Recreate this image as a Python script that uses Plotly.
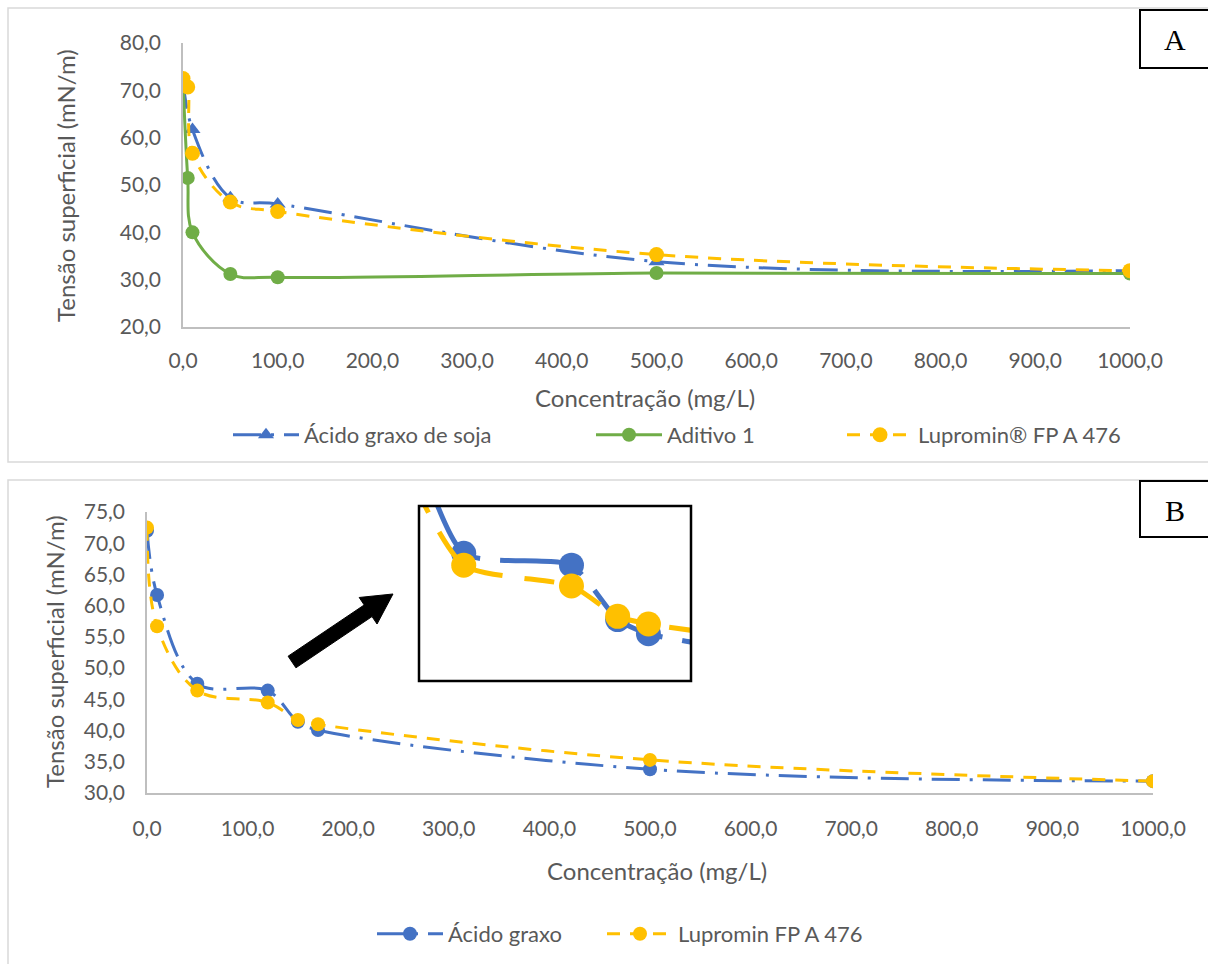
import plotly.graph_objects as go
import numpy as np

# ---------------- DATA ----------------
# Panel A
a_acido_x = [0, 10, 50, 100, 500, 1000]
a_acido_y = [72.0, 61.7, 47.3, 46.0, 33.8, 31.9]
a_aditivo_x = [0, 5, 10, 50, 100, 500, 1000]
a_aditivo_y = [72.0, 51.5, 40.0, 31.2, 30.5, 31.4, 31.3]
a_lupro_x = [0, 5, 10, 50, 100, 500, 1000]
a_lupro_y = [72.5, 70.7, 56.7, 46.4, 44.4, 35.3, 31.9]

# Panel B
b_x = [0, 10, 50, 120, 150, 170, 500, 1000]
b_acido_y = [72.0, 61.7, 47.5, 46.4, 41.4, 40.1, 33.8, 31.9]
b_lupro_y = [72.5, 56.7, 46.4, 44.5, 41.7, 41.0, 35.3, 31.9]

names_a = ["Ácido graxo de soja", "Aditivo 1", "Lupromin® FP A 476"]
names_b = ["Ácido graxo", "Lupromin FP A 476"]
x_title = "Concentração (mg/L)"
y_title = "Tensão superficial (mN/m)"

# ---------------- STYLE ----------------
W, H = 1208, 964
BLUE, GREEN, GOLD = "#4472C4", "#70AD47", "#FFC000"
TXT = "#595959"
FONT = "Lato"
DASH_BLUE = "28px,10px,3px,10px"
DASH_GOLD = "13px,10px"


def px(x):
    return x / W


def py(y):
    return 1 - y / H


fig = go.Figure()

# Panel A traces
fig.add_trace(go.Scatter(x=a_acido_x, y=a_acido_y, name=names_a[0], mode="lines+markers",
                         line=dict(color=BLUE, width=3, dash=DASH_BLUE, shape="spline", smoothing=1),
                         marker=dict(symbol="triangle-up", size=14, color=BLUE),
                         xaxis="x", yaxis="y", legend="legend"))
fig.add_trace(go.Scatter(x=a_aditivo_x, y=a_aditivo_y, name=names_a[1], mode="lines+markers",
                         line=dict(color=GREEN, width=3, shape="spline", smoothing=1),
                         marker=dict(symbol="circle", size=14, color=GREEN),
                         xaxis="x", yaxis="y", legend="legend2"))
fig.add_trace(go.Scatter(x=a_lupro_x, y=a_lupro_y, name=names_a[2], mode="lines+markers",
                         line=dict(color=GOLD, width=3, dash=DASH_GOLD, shape="spline", smoothing=1),
                         marker=dict(symbol="circle", size=15, color=GOLD),
                         xaxis="x", yaxis="y", legend="legend3"))

# Panel B traces
fig.add_trace(go.Scatter(x=b_x, y=b_acido_y, name=names_b[0], mode="lines+markers",
                         line=dict(color=BLUE, width=3, dash=DASH_BLUE, shape="spline", smoothing=1),
                         marker=dict(symbol="circle", size=14, color=BLUE),
                         xaxis="x2", yaxis="y2", legend="legend4"))
fig.add_trace(go.Scatter(x=b_x, y=b_lupro_y, name=names_b[1], mode="lines+markers",
                         line=dict(color=GOLD, width=3, dash=DASH_GOLD, shape="spline", smoothing=1),
                         marker=dict(symbol="circle", size=14, color=GOLD),
                         xaxis="x2", yaxis="y2", legend="legend5"))

# Inset (magnified view of panel B)
fig.add_trace(go.Scatter(x=b_x, y=b_acido_y, mode="lines+markers", showlegend=False,
                         line=dict(color=BLUE, width=5, dash="60px,20px,6px,20px", shape="spline", smoothing=0.6),
                         marker=dict(symbol="circle", size=25, color=BLUE),
                         xaxis="x3", yaxis="y3", hoverinfo="skip"))
fig.add_trace(go.Scatter(x=b_x, y=b_lupro_y, mode="lines+markers", showlegend=False,
                         line=dict(color=GOLD, width=5, dash="30px,22px", shape="spline", smoothing=0.6),
                         marker=dict(symbol="circle", size=25, color=GOLD),
                         xaxis="x3", yaxis="y3", hoverinfo="skip"))

axis_common = dict(showgrid=False, zeroline=False, ticks="", showline=True, automargin=False,
                   linecolor="#BFBFBF", linewidth=1.5,
                   tickfont=dict(family=FONT, size=21, color=TXT), tickformat=".1f")

fig.update_layout(
    template="none",
    width=W, height=H,
    margin=dict(l=0, r=0, t=0, b=0, pad=0, autoexpand=False),
    paper_bgcolor="white", plot_bgcolor="white",
    separators=",.",
    font=dict(family=FONT, color=TXT),
    hovermode=False,
    xaxis=dict(domain=[px(183), px(1130)], range=[0, 1000], dtick=100, anchor="y",
               ticklabelstandoff=14, **axis_common),
    yaxis=dict(domain=[py(327), py(43)], range=[20, 80], dtick=10, anchor="x",
               ticklabelstandoff=16, **axis_common),
    xaxis2=dict(domain=[px(147), px(1153)], range=[0, 1000], dtick=100, anchor="y2",
                ticklabelstandoff=16, **axis_common),
    yaxis2=dict(domain=[py(793), py(512)], range=[30, 75], dtick=5, anchor="x2",
                ticklabelstandoff=16, **axis_common),
    xaxis3=dict(domain=[px(420), px(690)], range=[21.6, 197], visible=False, anchor="y3", automargin=False),
    yaxis3=dict(domain=[py(680), py(507)], range=[35.85, 51.75], visible=False, anchor="x3", automargin=False),
)

leg_common = dict(orientation="h", yanchor="middle", xanchor="left", bgcolor="rgba(0,0,0,0)",
                  font=dict(family=FONT, size=22, color=TXT), itemwidth=66)
fig.update_layout(
    legend=dict(x=px(228), y=py(435), **leg_common),
    legend2=dict(x=px(591), y=py(435), **leg_common),
    legend3=dict(x=px(842), y=py(435), **leg_common),
    legend4=dict(x=px(372), y=py(934), **leg_common),
    legend5=dict(x=px(602), y=py(934), **leg_common),
)

# Axis titles and panel labels
title_font = dict(family=FONT, size=24, color=TXT)
ann = []
ann.append(dict(text=x_title, x=px(645), y=py(397), xref="paper", yref="paper", showarrow=False,
                xanchor="center", yanchor="middle", font=title_font))
ann.append(dict(text=x_title, x=px(657), y=py(870), xref="paper", yref="paper", showarrow=False,
                xanchor="center", yanchor="middle", font=title_font))
ann.append(dict(text=y_title, x=px(66), y=py(186), xref="paper", yref="paper", showarrow=False,
                xanchor="center", yanchor="middle", textangle=-90, font=title_font))
ann.append(dict(text=y_title, x=px(54), y=py(652), xref="paper", yref="paper", showarrow=False,
                xanchor="center", yanchor="middle", textangle=-90, font=title_font))
ann.append(dict(text="A", x=px(1175), y=py(40), xref="paper", yref="paper", showarrow=False,
                xanchor="center", yanchor="middle",
                font=dict(family="Liberation Serif", size=30, color="black")))
ann.append(dict(text="B", x=px(1175), y=py(510), xref="paper", yref="paper", showarrow=False,
                xanchor="center", yanchor="middle",
                font=dict(family="Liberation Serif", size=30, color="black")))
fig.update_layout(annotations=ann)

# Frames and boxes
shapes = []
shapes.append(dict(type="rect", xref="paper", yref="paper", x0=px(8), x1=px(1215), y0=py(462), y1=py(8),
                   line=dict(color="#D9D9D9", width=1.5)))
shapes.append(dict(type="rect", xref="paper", yref="paper", x0=px(8), x1=px(1215), y0=py(975), y1=py(480),
                   line=dict(color="#D9D9D9", width=1.5)))
shapes.append(dict(type="rect", xref="paper", yref="paper", x0=px(1140), x1=px(1215), y0=py(68), y1=py(10),
                   line=dict(color="black", width=2)))
shapes.append(dict(type="rect", xref="paper", yref="paper", x0=px(1140), x1=px(1215), y0=py(537), y1=py(481),
                   line=dict(color="black", width=2)))
shapes.append(dict(type="rect", xref="paper", yref="paper", x0=px(419), x1=px(691), y0=py(681), y1=py(506),
                   line=dict(color="black", width=2.5)))

# Arrow polygon
T = np.array([292.0, 662.0])
P = np.array([393.0, 594.0])
d = P - T
u = d / np.linalg.norm(d)
n = np.array([-u[1], u[0]])
hl, hw, sw = 30.0, 16.0, 7.0
B0 = P - u * hl
pts = [T + n * sw, B0 + n * sw, B0 + n * hw, P, B0 - n * hw, B0 - n * sw, T - n * sw]
path = "M " + " L ".join(f"{px(p[0]):.5f},{py(p[1]):.5f}" for p in pts) + " Z"
shapes.append(dict(type="path", xref="paper", yref="paper", path=path,
                   fillcolor="black", line=dict(color="black", width=1)))
fig.update_layout(shapes=shapes)

fig.write_html("out.html", config={"displayModeBar": False},
               post_script="document.body.style.margin='0';document.body.style.overflow='hidden';")
